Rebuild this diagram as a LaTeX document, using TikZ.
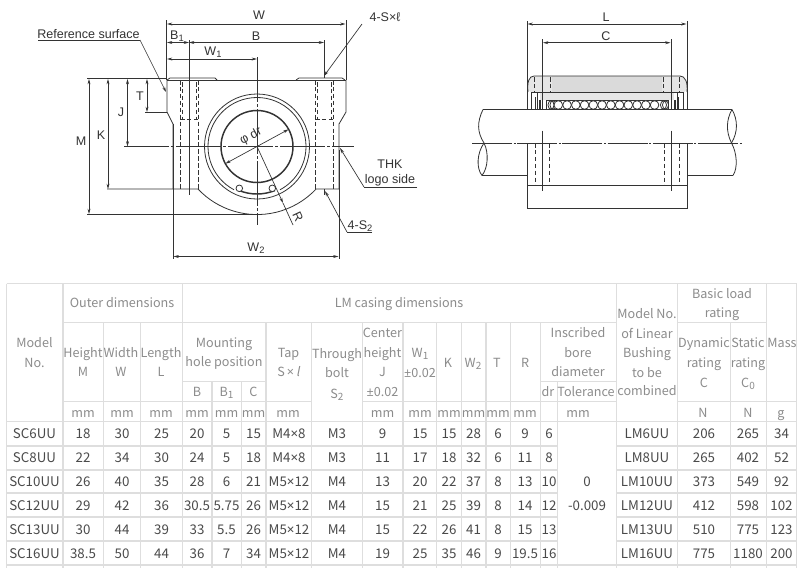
\documentclass[tikz,border=0pt]{standalone}
\usepackage{fontspec}
\usetikzlibrary{arrows.meta,calc}
\setmainfont{Liberation Sans}
\newfontfamily\cjkfam[AutoFakeSlant=0.2]{Noto Sans CJK JP}
\newfontfamily\latinsym{Noto Sans}
\protected\def\tmsym{{\latinsym ×}}
\protected\def\pmsym{{\latinsym ±}}
\definecolor{ink}{HTML}{333333}
\definecolor{grid}{HTML}{DEDEDE}
\definecolor{headtxt}{HTML}{8C8C8C}
\definecolor{datatxt}{HTML}{4A4A4A}
\definecolor{capfill}{HTML}{DADADA}
\definecolor{capend}{HTML}{E6E6E6}
\newcommand{\subnum}[1]{\raisebox{-0.25ex}{\scriptsize #1}}
\newcommand{\hsub}[1]{\raisebox{-0.3ex}{\fontsize{7.5pt}{8pt}\selectfont #1}}
\tikzset{
  part/.style={draw=ink,line width=0.6pt},
  heavy/.style={draw=ink,line width=1.1pt},
  thin part/.style={draw=ink,line width=0.45pt},
  hidden/.style={draw=ink,line width=0.5pt,dash pattern=on 3.4pt off 1.8pt},
  axis/.style={draw=ink,line width=0.45pt,dash pattern=on 34pt off 1.5pt on 2pt off 1.5pt},
  dim/.style={draw=ink,line width=0.5pt,{Stealth[length=4pt,width=2.2pt]}-{Stealth[length=4pt,width=2.2pt]}},
  lead/.style={draw=ink,line width=0.5pt,-{Stealth[length=4pt,width=2.2pt]}},
  ext/.style={draw=ink,line width=0.5pt},
  lab/.style={inner sep=0pt,text=ink,font=\fontsize{9.4pt}{11pt}\selectfont},
  gridline/.style={draw=grid,line width=0.95pt},
  headcell/.style={inner sep=0pt,anchor=base,yshift=-3.6pt,text=headtxt,font=\cjkfam\fontsize{9.45pt}{12pt}\selectfont},
  datacell/.style={inner sep=0pt,anchor=base,yshift=-3.7pt,text=datatxt,font=\cjkfam\fontsize{10pt}{12pt}\selectfont},
}
\begin{document}
\begin{tikzpicture}[x=0.75pt,y=-0.75pt]
\useasboundingbox (0,0) rectangle (800,583);
\fill[white] (0,0) rectangle (800,583);
% ---------- front view -----------
\coordinate (ctr) at (257,146.5);
\draw[part] (167,80) -- (346,80);
\draw[part] (167,80) -- (170,78) -- (215,78) -- (217,80);
\draw[part] (296,80) -- (299,78) -- (342,78) -- (345,80);
\draw[part] (167,80) -- (167,112) -- (173,124) -- (173,189);
\draw[part] (346,80) -- (346,112) -- (339,124) -- (339,189);
\draw[part] (107,189) -- (198,189) arc[start angle=136.8,end angle=43.2,radius=81] -- (339,189);
% bolts
\foreach \bx in {189,324}{
  \draw[hidden] (\bx-9,80) -- (\bx-9,189) (\bx+9,80) -- (\bx+9,189);
  \draw[hidden] (\bx-9,119) -- (\bx+9,119);
}
\draw[hidden] (182,82) -- (182,119) (196,82) -- (196,119) (317,82) -- (317,119) (331,82) -- (331,119);
% rings
\draw[part] (ctr) circle[radius=52.5];
\draw[part] (ctr) ++(118:49) arc[start angle=118,end angle=422,radius=49];
\draw[heavy] (ctr) circle[radius=36];
\draw[heavy] (ctr) ++(112:47.5) arc[start angle=112,end angle=68,radius=47.5];
\draw[part,fill=white] (239.3,188.3) circle[radius=3.3];
\draw[part,fill=white] (272.3,188.3) circle[radius=3.3];
% axes
\coordinate (vA) at (257,57); \coordinate (vB) at (257,225);
\coordinate (hA) at (124,146.5); \coordinate (hB) at (354,146.5);
\draw[axis] (vA) -- (vB);
\draw[axis] (hA) -- (hB);
\draw[thin part] (189,40) -- (189,195);
\draw[thin part] (324,40) -- (324,78) (324,189) -- (324,195);
% extension lines
\draw[ext] (166.5,20) -- (166.5,80);
\draw[ext] (346,20) -- (346,80);
\draw[ext] (87,78) -- (167,78);
\draw[ext] (145,112) -- (167,112);
\draw[ext] (87,214.5) -- (252,214.5);
\draw[ext] (173,124) -- (173,259);
\draw[ext] (339,150) -- (339,259);
% dimensions
\node[lab] (tW) at (259,15) {W};
\node[lab] (tB1) at (177,36) {B\subnum{1}};
\node[lab] (tB) at (256,36) {B};
\node[lab] (tW1) at (213,52) {W\subnum{1}};
\node[lab] (tM) at (81,141) {M};
\node[lab] (tK) at (101,135) {K};
\node[lab] (tJ) at (121,112) {J};
\node[lab] (tT) at (140,96) {T};
\node[lab] (tW2) at (256,248) {W\subnum{2}};
\draw[dim] (167,24) -- (345.5,24);
\draw[dim] (167,42.5) -- (189,42.5);
\draw[dim] (189,42.5) -- (324,42.5);
\draw[dim] (167,59) -- (257,59);
\draw[dim] (89,79) -- (89,214);
\draw[dim] (108,79) -- (108,189);
\draw[dim] (127.5,79) -- (127.5,146.5);
\draw[dim] (147,79) -- (147,112);
\draw[dim] (173.5,256.5) -- (338.5,256.5);
% phi dr and R
\coordinate (phiA) at ($(ctr)+(151.5:36)$);
\coordinate (phiB) at ($(ctr)+(-28.5:36)$);
\draw[dim] (phiA) -- (phiB);
\node[lab,rotate=28] (tphi) at (251,136.5) {φ dr};
\coordinate (rArrow) at (283,203);
\coordinate (rEnd) at (293,225);
\draw[lead] (ctr) -- (rArrow);
\draw[ext] (rArrow) -- (rEnd);
\node[lab,rotate=-65] (tR) at (298,217) {R};
% leaders
\node[lab] (tref) at (88.5,34.5) {Reference surface};
\coordinate (refA) at (38,40); \coordinate (refB) at (140,40); \coordinate (refC) at (166,92);
\draw[ext] (refA) -- (refB);
\draw[lead] (refB) -- (refC);
\node[lab] (tS) at (385,17) {4-S×ℓ};
\coordinate (sA) at (362,24); \coordinate (sB) at (324,76);
\draw[lead] (sA) -- (sB);
\node[lab] (tTHK) at (390,164) {THK};
\node[lab] (tlogo) at (390,180) {logo side};
\coordinate (lgA) at (417,187); \coordinate (lgB) at (364,187); \coordinate (lgC) at (340,148);
\draw[ext] (lgA) -- (lgB);
\draw[lead] (lgB) -- (lgC);
\node[lab] (tS2) at (360,226) {4-S\subnum{2}};
\coordinate (s2A) at (372,232); \coordinate (s2B) at (347,232); \coordinate (s2C) at (325,191);
\draw[ext] (s2A) -- (s2B);
\draw[lead] (s2B) -- (s2C);
% ---------- side view -----------
\fill[capend] (531,92) -- (528,90) .. controls (527.5,82) and (529,76) .. (534,76) -- (680,76) .. controls (685,76) and (687.5,82) .. (687,90) -- (684,92) -- cycle;
\fill[capfill] (552,76) rectangle (662,92);
\fill[capend] (540,92) rectangle (674,100);
\draw[part] (528,92) .. controls (527,82) and (529,76) .. (534,76) -- (680,76) .. controls (685,76) and (688,82) .. (687,92);
\draw[part] (531,92.5) -- (684,92.5);
\draw[part] (546,100) -- (668,100);
\draw[ext] (527,21) -- (527,109.5);
\draw[ext] (687,21) -- (687,109.5);
\draw[ext] (542.7,39) -- (542.7,109);
\draw[ext] (671,39) -- (671,109);
\draw[hidden] (534,77) -- (534,92) (550.5,77) -- (550.5,92) (663.5,77) -- (663.5,92) (679,77) -- (679,92);
\draw[thin part] (531,109) -- (531,92) (537,109) -- (537,92) (535.5,97) -- (535.5,109) (539,100) -- (539,109);
\draw[thin part] (683,109) -- (683,92) (677,109) -- (677,92) (678.5,97) -- (678.5,109) (675,100) -- (675,109);
\draw[part] (540,100) -- (540,109) (546,100) -- (546,109) (668,100) -- (668,109) (674,100) -- (674,109);
\draw[part] (553,105) ellipse[x radius=3,y radius=4.2];
\draw[part] (551,105) ellipse[x radius=3,y radius=4.2];
\draw[part] (663.5,105) ellipse[x radius=3,y radius=4.2];
\draw[part] (665.5,105) ellipse[x radius=3,y radius=4.2];
\foreach \k in {0,...,11}{ \draw[part,fill=white] (558.3+8.75*\k,105) circle[radius=4.3]; }
\node[lab] (tL) at (606,17) {L};
\node[lab] (tC) at (606,36) {C};
\draw[dim] (527.5,24) -- (686.5,24);
\draw[dim] (543,42.7) -- (670.5,42.7);
% shaft
\draw[part] (483,109.5) -- (732,109.5);
\draw[part] (482,175.5) -- (527,175.5) (687,175.5) -- (733,175.5);
\draw[part] (483,109.5) .. controls (477,122) and (477,132) .. (484,143) .. controls (477,153) and (476,168) .. (482,175.5);
\draw[part] (484,143) .. controls (489,153) and (488,168) .. (482,175.5);
\draw[part] (732,109.5) .. controls (726,120) and (726,132) .. (731.5,143) .. controls (737,153) and (738,168) .. (733,175.5);
\draw[part] (732,109.5) .. controls (738,120) and (738,132) .. (731.5,143);
\coordinate (cA) at (472,143); \coordinate (cB) at (742,143);
\draw[draw=ink,line width=0.45pt,dash pattern=on 30pt off 1.2pt on 1.5pt off 1.2pt] (cA) -- (cB);
% housing
\draw[part] (527,143) -- (527,208) -- (687,208) -- (687,143);
\draw[part] (527,185) -- (687,185);
\draw[hidden] (535,143) -- (535,185) (549,143) -- (549,185) (664.5,143) -- (664.5,185) (679,143) -- (679,185);
\draw[thin part] (542.7,130.5) -- (542.7,190.5) (671.7,130.5) -- (671.7,190.5);
% ---------- table -----------
\draw[gridline] (6.5,283.5) -- (796.5,283.5);
\draw[gridline] (63,322.5) -- (616.5,322.5) (677.5,322.5) -- (766.5,322.5);
\draw[gridline] (182.5,381.5) -- (266,381.5) (540.5,381.5) -- (616.5,381.5);
\draw[gridline] (63,401.5) -- (311.5,401.5) (362.5,401.5) -- (616.5,401.5) (677.5,401.5) -- (796.5,401.5);
\draw[gridline] (6.5,421.5) -- (796.5,421.5);
\foreach \yy in {446,470,493,517,541}{
  \draw[gridline] (6.5,\yy) -- (557.5,\yy) (616.5,\yy) -- (796.5,\yy);
}
\draw[gridline] (6.5,565) -- (796.5,565);
\foreach \vx in {6.5,63,182.5,616.5,677.5,766.5,796.5}{ \draw[gridline] (\vx,283.5) -- (\vx,568); }
\foreach \vx in {103.5,140.5,266,311.5,362.5,403,436.5,461.5,486,510.5,540.5,730.5}{ \draw[gridline] (\vx,322.5) -- (\vx,568); }
\foreach \vx in {212,241.5,557.5}{ \draw[gridline] (\vx,381.5) -- (\vx,568); }
% header text
\foreach \tx/\cx/\cy [count=\i] in {
  Model/34.5/343, No./34.5/363,
  Outer dimensions/122/303, LM casing dimensions/399/303,
  Height/83/352.5, M/83/372, Width/121/352.5, W/121/372, Length/161/352.5, L/161/372,
  Mounting/224/342.5, hole position/224/362, B/197/392, C/253.5/392,
  Tap/288.5/353, Through/337/354, bolt/337/373,
  Center/382.5/333, height/382.5/353, J/382.5/372, \pmsym 0.02/382.5/392,
  \pmsym 0.02/420/373, K/448/363, T/497/363, R/525/363,
  Inscribed/578/333, bore/578/353, diameter/578/372, dr/548/392, Tolerance/586/392,
  Model No./647/314, of Linear/647/334, Bushing/647/353, to be/647/373, combined/647/391,
  Basic load/722/294, rating/722/313,
  Dynamic/704/343, rating/704/363, C/704/383,
  Static/748/343, rating/748/363, Mass/782/343,
  mm/83/413, mm/122/413, mm/161/413, mm/197/413, mm/226.5/413, mm/253.5/413, mm/288/413,
  mm/382.5/413, mm/420/413, mm/449/413, mm/473.5/413, mm/498/413, mm/525/413, mm/578/413,
  N/703/413, N/748/413, g/781/413}
{ \node[headcell] (h\i) at (\cx,\cy) {\tx}; }
\node[headcell] (hB1) at (226.5,392) {B\hsub{1}};
\node[headcell] (hSl) at (288.5,372) {S\,\tmsym\,\textit{l}};
\node[headcell] (hS2) at (337,394) {S\hsub{2}};
\node[headcell] (hW1) at (420,353) {W\hsub{1}};
\node[headcell] (hW2) at (473,363) {W\hsub{2}};
\node[headcell] (hC0) at (748,383) {C\hsub{0}};
% data rows
\def\colx{{34.5,83,122,161.5,197,226.5,253.5,289,337,382.5,420,449,473.5,498,525,549,647,704,748,781.5}}
\foreach \rowv/\ry [count=\ri] in {
 {SC6UU,18,30,25,20,5,15,M4\tmsym 8,M3,9,15,15,28,6,9,6,LM6UU,206,265,34}/434,
 {SC8UU,22,34,30,24,5,18,M4\tmsym 8,M3,11,17,18,32,6,11,8,LM8UU,265,402,52}/458,
 {SC10UU,26,40,35,28,6,21,M5\tmsym 12,M4,13,20,22,37,8,13,10,LM10UU,373,549,92}/482,
 {SC12UU,29,42,36,30.5,5.75,26,M5\tmsym 12,M4,15,21,25,39,8,14,12,LM12UU,412,598,102}/506,
 {SC13UU,30,44,39,33,5.5,26,M5\tmsym 12,M4,15,22,26,41,8,15,13,LM13UU,510,775,123}/529.5,
 {SC16UU,38.5,50,44,36,7,34,M5\tmsym 12,M4,19,25,35,46,9,19.5,16,LM16UU,775,1180,200}/553.5}
{
  \foreach \val [count=\ci from 0,expand list=true] in \rowv {
    \pgfmathsetmacro{\cxx}{\colx[\ci]}
    \node[datacell] (d\ri-\ci) at (\cxx,\ry) {\val};
  }
}
\node[datacell] (tolA) at (587,482) {0};
\node[datacell] (tolB) at (587,506) {-0.009};
\end{tikzpicture}
\end{document}
